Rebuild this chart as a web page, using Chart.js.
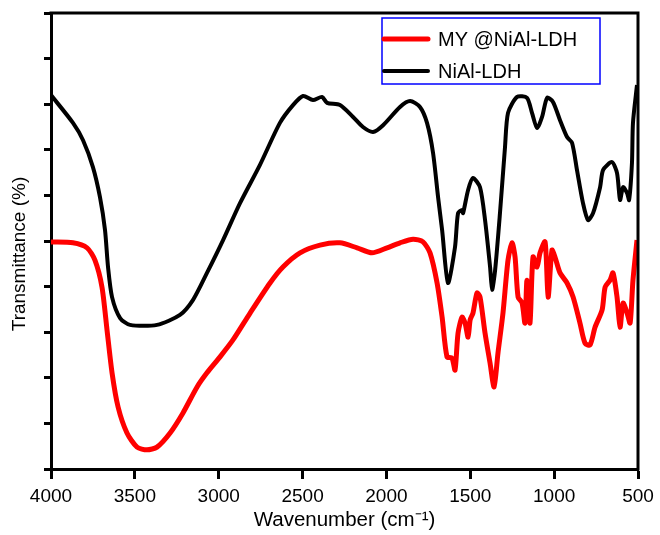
<!DOCTYPE html>
<html>
<head>
<meta charset="utf-8">
<script src="https://cdn.jsdelivr.net/npm/chart.js@4.4.0/dist/chart.umd.min.js"></script>
<style>
html,body{margin:0;padding:0;background:#fff;}
#wrap{width:660px;height:535px;position:relative;}
</style>
</head>
<body>
<div id="wrap"><canvas id="c" width="660" height="535"></canvas></div>
<script>
// ---- data ----
const seriesNames = ["MY @NiAl-LDH", "NiAl-LDH"];
const xTicks = [4000, 3500, 3000, 2500, 2000, 1500, 1000, 500];
const xTitle = "Wavenumber (cm\u207B\u00B9)";
const yTitle = "Transmittance (%)";

const redWavenumber = [4000,3869,3785,3738,3696,3666,3636,3600,3547,3487,3428,3368,3290,3213,3129,3070,2992,2915,2813,2694,2617,2515,2396,2277,2175,2086,1996,1919,1841,1782,1740,1698,1668,1639,1609,1591,1573,1549,1531,1513,1501,1484,1460,1442,1412,1382,1358,1335,1305,1275,1251,1233,1215,1191,1174,1162,1144,1126,1102,1084,1054,1036,1013,995,965,923,887,846,816,786,756,714,696,667,649,625,607,589,565,547,530,506];
const redTransmittance = [4.98,4.96,4.85,4.58,3.99,3.05,2.11,1.36,0.79,0.48,0.42,0.48,0.79,1.23,1.80,2.11,2.46,2.83,3.42,4.08,4.43,4.74,4.91,4.96,4.85,4.74,4.85,4.96,5.04,4.98,4.74,4.08,3.33,2.46,2.43,2.17,2.98,3.33,3.20,2.89,3.27,3.42,3.86,3.77,2.98,2.32,1.80,2.54,3.42,4.58,4.96,4.65,3.77,3.64,3.20,4.14,3.20,4.65,4.43,4.74,4.98,3.77,4.80,4.65,4.30,4.08,3.77,3.20,2.76,2.72,3.11,3.49,3.99,4.14,4.30,3.77,3.11,3.64,3.42,3.20,4.14,5.02];

const blackWavenumber = [4000,3869,3809,3750,3708,3678,3660,3636,3588,3529,3368,3231,3153,3070,2974,2873,2754,2635,2557,2497,2438,2384,2354,2277,2199,2140,2080,2020,1919,1859,1800,1758,1722,1692,1668,1633,1591,1573,1549,1543,1513,1484,1442,1412,1382,1370,1352,1323,1293,1275,1221,1162,1132,1102,1072,1042,1007,965,923,893,864,828,798,768,726,708,655,625,607,589,565,553,536,530,506];
const blackTransmittance = [8.20,7.59,7.21,6.62,5.96,5.24,4.43,3.77,3.31,3.16,3.16,3.38,3.71,4.30,5.02,5.83,6.67,7.59,7.98,8.18,8.09,8.16,8.03,7.98,7.72,7.50,7.39,7.54,7.94,8.07,7.94,7.59,6.93,5.96,5.24,4.08,4.87,5.61,5.68,5.61,6.12,6.38,6.18,5.46,4.43,3.93,4.36,5.61,7.06,7.81,8.16,8.14,7.81,7.48,7.72,8.14,8.05,7.65,7.28,7.15,6.56,5.83,5.46,5.61,6.18,6.56,6.73,6.49,5.90,6.18,6.05,5.90,6.71,7.59,8.42];

const toPoints = (xs, ys) => xs.map((x, i) => ({x: x, y: ys[i]}));

const FONT = "'Liberation Sans', Arial, Helvetica, sans-serif";

const framePlugin = {
  id: 'frame',
  afterDraw(chart) {
    const {ctx, chartArea: a} = chart;
    ctx.save();
    ctx.strokeStyle = '#000';
    ctx.lineWidth = 3;
    ctx.lineCap = 'square';
    ctx.beginPath();
    ctx.moveTo(a.left, a.top);
    ctx.lineTo(a.right, a.top);
    ctx.lineTo(a.right, a.bottom);
    ctx.stroke();
    ctx.restore();
  }
};

const yTitlePlugin = {
  id: 'yTitle',
  afterDraw(chart) {
    const {ctx} = chart;
    ctx.save();
    ctx.translate(19.5, 254);
    ctx.rotate(-Math.PI / 2);
    ctx.fillStyle = '#000';
    ctx.font = '19px ' + FONT;
    ctx.textAlign = 'center';
    ctx.textBaseline = 'middle';
    ctx.fillText(yTitle, 0, 0);
    ctx.restore();
  }
};

const legendPlugin = {
  id: 'boxLegend',
  afterDraw(chart) {
    const {ctx} = chart;
    const bx = 382, by = 18, bw = 218, bh = 66;
    ctx.save();
    ctx.fillStyle = '#fff';
    ctx.fillRect(bx, by, bw, bh);
    ctx.strokeStyle = '#0000ff';
    ctx.lineWidth = 1.5;
    ctx.strokeRect(bx, by, bw, bh);
    const rows = [39, 71];
    chart.data.datasets.forEach((ds, i) => {
      ctx.strokeStyle = ds.borderColor;
      ctx.lineWidth = ds.borderWidth;
      ctx.lineCap = 'round';
      ctx.beginPath();
      ctx.moveTo(bx + 2, rows[i]);
      ctx.lineTo(bx + 46, rows[i]);
      ctx.stroke();
      ctx.fillStyle = '#000';
      ctx.font = '20px ' + FONT;
      ctx.textBaseline = 'middle';
      ctx.textAlign = 'left';
      ctx.fillText(ds.label, bx + 56, rows[i] + 1);
    });
    ctx.restore();
  }
};

new Chart(document.getElementById('c'), {
  type: 'line',
  data: {
    datasets: [
      {label: seriesNames[0], data: toPoints(redWavenumber, redTransmittance), borderColor: '#ff0000', borderWidth: 5, pointRadius: 0, tension: 0.25, fill: false},
      {label: seriesNames[1], data: toPoints(blackWavenumber, blackTransmittance), borderColor: '#000000', borderWidth: 4, pointRadius: 0, tension: 0.25, fill: false}
    ]
  },
  options: {
    responsive: false,
    animation: false,
    layout: {padding: {top: 13, right: 22, left: 0, bottom: 0}},
    plugins: {legend: {display: false}, tooltip: {enabled: false}},
    scales: {
      x: {
        type: 'linear',
        reverse: true,
        min: 500,
        max: 4000,
        afterBuildTicks(scale) { scale.ticks = xTicks.map(v => ({value: v})); },
        afterFit(scale) { scale.height = 66; },
        ticks: {color: '#000', font: {family: FONT, size: 19}, padding: 6, maxRotation: 0, autoSkip: false, callback: v => String(v)},
        grid: {drawOnChartArea: false, drawTicks: true, tickLength: 10, tickWidth: 3, tickColor: '#000'},
        border: {display: true, color: '#000', width: 3},
        title: {display: true, text: xTitle, color: '#000', font: {family: FONT, size: 20.5}, padding: {top: 0, bottom: 2}}
      },
      y: {
        type: 'linear',
        min: 0,
        max: 10,
        afterFit(scale) { scale.width = 51; },
        ticks: {stepSize: 1, color: 'rgba(0,0,0,0)', font: {size: 1}, padding: 0},
        grid: {drawOnChartArea: false, drawTicks: true, tickLength: 7, tickWidth: 3, tickColor: '#000'},
        border: {display: true, color: '#000', width: 3},
        title: {display: false}
      }
    }
  },
  plugins: [framePlugin, yTitlePlugin, legendPlugin]
});
</script>
</body>
</html>
